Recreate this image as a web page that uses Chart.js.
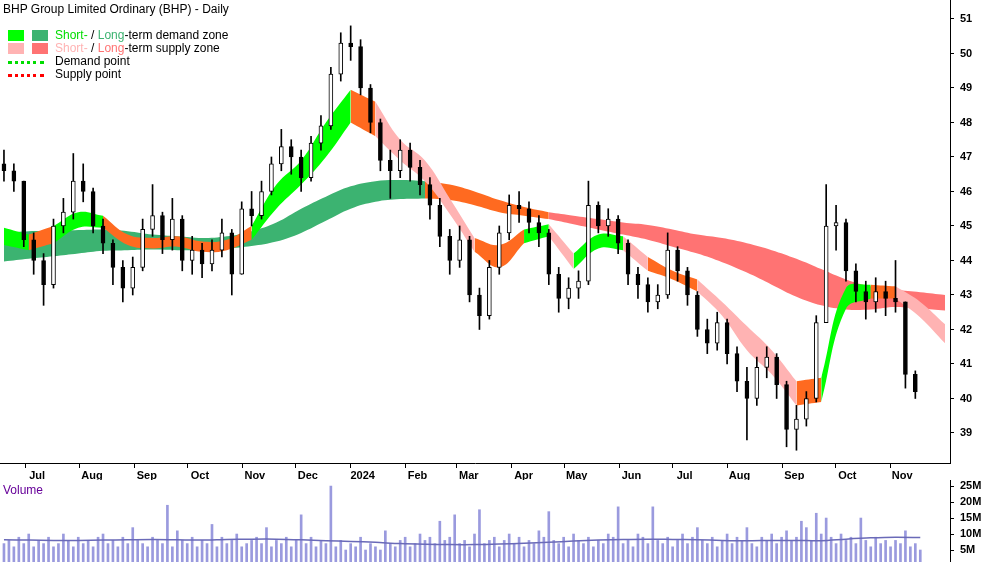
<!DOCTYPE html>
<html><head><meta charset="utf-8">
<script src="https://cdn.jsdelivr.net/npm/chart.js@4.4.1/dist/chart.umd.min.js"></script>
<style>
body{margin:0;background:#fff;width:1000px;height:562px;overflow:hidden;font-family:"Liberation Sans",Arial,sans-serif;position:relative}
canvas{position:absolute;left:0;top:0}
.t{position:absolute;font-size:12px;color:#000;white-space:nowrap}
.sw{position:absolute;width:16px;height:11px}
.dl{position:absolute;width:36px;border-top:3px dotted}
</style></head><body>
<div style="position:absolute;left:0;top:0;width:1000px;height:480px"><canvas id="c1" width="1000" height="480"></canvas></div>
<div style="position:absolute;left:0;top:480px;width:1000px;height:82px"><canvas id="c2" width="1000" height="82"></canvas></div>
<div class="t" style="left:3px;top:2px">BHP Group Limited Ordinary (BHP) - Daily</div>
<div class="sw" style="left:8px;top:30px;background:#00ff00"></div><div class="sw" style="left:32px;top:30px;background:#3cb371"></div>
<div class="t" style="left:55px;top:28px"><span style="color:#00dd00">Short-</span> / <span style="color:#3cb371">Long</span>-term demand zone</div>
<div class="sw" style="left:8px;top:43px;background:#ffb3b3"></div><div class="sw" style="left:32px;top:43px;background:#ff7373"></div>
<div class="t" style="left:55px;top:41px"><span style="color:#ffb3b3">Short-</span> / <span style="color:#ff7373">Long</span>-term supply zone</div>
<div class="dl" style="left:8px;top:61px;border-color:#00dd00"></div><div class="t" style="left:55px;top:54px">Demand point</div>
<div class="dl" style="left:8px;top:74px;border-color:#ff0000"></div><div class="t" style="left:55px;top:67px">Supply point</div>
<div class="t" style="left:3px;top:483px;color:#660099">Volume</div>
<script>
const monthWeeks=[1.71,6.14,10.57,14.86,19.29,23.57,28,32.43,36.57,41,45.29,49.71,54,58.43,62.86,67.14,71.57];
const monthLabels=["Jul","Aug","Sep","Oct","Nov","Dec","2024","Feb","Mar","Apr","May","Jun","Jul","Aug","Sep","Oct","Nov"];
const closes=[46.6,46.3,44.6,44.0,43.3,45.0,45.4,46.3,46.0,45.0,44.5,43.8,43.2,43.8,44.9,45.3,44.6,45.2,44.0,44.3,43.9,44.3,44.8,43.6,45.5,45.3,46.0,46.8,47.3,47.0,46.4,47.4,47.9,49.4,50.3,50.2,49.0,48.0,46.9,46.6,47.2,46.7,46.2,45.6,44.7,44.0,44.6,43.0,42.4,43.8,44.8,45.6,45.5,45.1,44.8,43.6,42.9,43.2,43.4,45.6,45.0,45.2,44.5,43.6,43.3,42.8,43.0,44.3,43.7,43.0,42.0,41.6,42.2,41.3,40.5,40.0,40.9,41.2,40.4,39.1,39.4,40.0,42.2,45.0,45.1,43.7,43.1,42.8,43.1,42.9,42.8,40.7,40.2];
const highs=[47.2,46.8,46.3,44.8,44.2,45.2,45.8,47.1,46.8,46.1,45.2,44.6,44.0,44.1,45.2,46.2,45.4,45.8,45.3,44.7,44.5,44.6,45.2,44.9,45.7,46.0,46.3,47.0,47.8,47.5,47.2,47.6,48.2,49.6,50.6,50.8,50.4,49.1,48.1,47.2,47.5,47.4,46.9,46.4,45.8,44.9,45.0,44.7,43.2,44.0,45.0,45.9,46.0,45.7,45.3,44.9,43.8,43.5,43.7,46.3,45.7,45.5,45.3,44.6,43.8,43.5,43.3,44.8,44.4,43.8,43.1,42.3,42.5,42.3,41.5,40.9,41.2,41.5,41.3,40.5,39.8,40.2,42.4,46.2,45.6,45.2,43.9,43.4,43.5,43.4,44.0,42.8,40.8];
const lows=[46.3,46.0,44.4,43.6,42.7,43.2,44.8,45.2,45.7,44.8,44.2,43.3,42.8,43.0,43.7,44.7,44.2,44.3,43.7,43.6,43.5,43.7,44.1,43.0,43.6,45.0,45.2,45.9,46.6,46.5,46.0,46.3,47.2,47.8,49.2,49.8,48.8,47.7,46.6,45.8,46.4,46.3,45.9,45.2,44.4,43.6,43.8,42.8,42.0,42.3,43.6,44.6,45.1,44.8,44.4,43.3,42.5,42.6,42.9,43.3,44.8,44.7,44.2,43.3,42.9,42.5,42.6,42.9,43.4,42.7,41.8,41.3,41.4,41.0,40.2,38.8,39.8,40.6,40.0,38.6,38.5,39.2,39.9,42.3,44.3,43.4,42.8,42.3,42.5,42.4,42.5,40.3,40.0];
const firstOpen=46.8;
const longUp=[44.8,44.85,44.85,44.88,44.9,44.85,44.75,44.7,44.65,44.7,44.85,45.1,45.5,45.85,46.15,46.3,46.33,46.3,46.2,46.0,45.75,45.55,45.4,45.3,45.2,45.1,45.03,44.9,44.75,44.65,44.5,44.3,44.05,43.75,43.45,43.25,43.15,43.08,43.0];
const longLo=[43.97,44.05,44.12,44.2,44.28,44.3,44.32,44.3,44.3,44.35,44.42,44.55,44.8,45.15,45.5,45.7,45.78,45.8,45.75,45.6,45.4,45.3,45.2,45.05,44.9,44.75,44.6,44.4,44.2,43.95,43.65,43.3,42.95,42.7,42.58,42.58,42.65,42.6,42.55];
const shortUp=[44.95,44.75,45.0,45.4,45.3,44.75,44.65,44.7,44.55,44.6,45.0,46.2,46.9,48.0,48.95,48.6,47.5,46.9,45.8,44.65,44.45,44.9,45.05,44.2,44.75,44.7,44.1,43.7,43.45,42.8,42.1,41.4,40.5,40.6,43.2,43.3,43.25,42.8,42.15];
const shortLo=[44.45,44.3,44.5,44.95,44.95,44.45,44.35,44.4,44.25,44.3,44.6,45.5,46.2,47.0,48.0,47.6,46.9,46.3,45.35,44.25,43.8,44.5,44.7,43.75,44.35,44.3,43.7,43.45,43.1,42.4,41.4,40.7,39.8,39.9,42.6,42.9,42.9,42.35,41.6];
const shortSegs=[[0,1,"g"],[1,2,"o"],[2,4,"g"],[4,10,"o"],[10,14,"g"],[14,15,"o"],[15,19,"p"],[19,21,"o"],[21,22,"g"],[22,23,"p"],[23,25,"g"],[25,26,"p"],[26,28,"o"],[28,32,"p"],[32,33,"o"],[33,35,"g"],[35,36,"o"],[36,38,"p"]];
const longSegs=[[0,17,"dg"],[17,22,"o"],[22,38,"r"]];
const volumes=[7,8,6,9,7,10,6,8,7,9,6,7,10,8,6,9,7,8,6,9,10,7,8,6,9,7,12,8,7,6,9,8,7,19,6,11,8,7,9,6,8,7,13,6,9,7,8,10,6,7,8,9,7,12,6,8,7,9,6,8,16,7,9,6,8,7,25,6,8,5,7,6,9,5,7,6,5,11,7,6,8,9,6,7,10,8,9,7,14,8,9,16,7,8,6,10,17.6,7,8,9,6,8,10,7,9,6,8,7,11,9,17,8,7,9,6,10,8,7,9,6,8,7,10,9,18.5,7,8,6,10,9,7,18.5,8,7,9,6,8,10,7,9,12,8,7,9,6,8,10,7,9,8,12,7,6,9,8,10,7,9,11,8,9,14,12,8,16.5,10,15,9,7,10,8,9,7,15,8,6,9,7,8,6,8,7,11,6,7,5];
const volMA=[8.2,8.1,8.0,8.0,8.1,8.2,8.3,8.2,8.1,8.3,8.4,8.4,8.2,7.9,7.7,7.4,7.0,6.8,6.7,6.7,6.9,7.1,7.4,7.8,8.1,8.3,8.4,8.3,8.2,8.0,7.9,8.0,8.0,7.9,8.4,8.8,9.0,8.9];

const COL={g:"#00ff00",o:"#ff6a20",p:"#ffb3b3",dg:"#3cb371",r:"#ff7373"};
const candleStep=0.8, bandStep=2, volStep=0.4;
const XMIN=-0.32, XMAX=76.4;
function bandSets(up,lo,segs,order){
  const out=[];
  segs.forEach(([a,b,k])=>{
    const mk=arr=>arr.map((v,i)=>({x:i*bandStep,y:(i>=a&&i<=b)?v:null}));
    out.push({type:"line",data:mk(up),borderWidth:0,pointRadius:0,tension:0.4,order,fill:false,borderColor:"rgba(0,0,0,0)"});
    out.push({type:"line",data:mk(lo),borderWidth:0,pointRadius:0,tension:0.4,order,fill:"-1",backgroundColor:COL[k],borderColor:"rgba(0,0,0,0)"});
  });
  return out;
}
const noPad=s=>{s.width=50;s.paddingTop=0;s.paddingBottom=0;};
const opens=closes.map((c,i)=>i===0?firstOpen:closes[i-1]);
const wick={type:"bar",data:closes.map((c,i)=>({x:i*candleStep,y:[lows[i],highs[i]]})),backgroundColor:"#000",barThickness:1,grouped:false,order:0};
const body={type:"bar",data:closes.map((c,i)=>({x:i*candleStep,y:[Math.min(opens[i],c),Math.max(opens[i],c)]})),
  backgroundColor:closes.map((c,i)=>c>=opens[i]?"#fff":"#000"),borderColor:"#000",borderWidth:1,borderSkipped:false,barThickness:4,grouped:false,order:-1};
const datasets=[body,wick,...bandSets(shortUp,shortLo,shortSegs,1),...bandSets(longUp,longLo,longSegs,2)];
const font={family:"Liberation Sans",size:11,weight:"bold"};
new Chart(document.getElementById("c1"),{
  data:{datasets},
  options:{responsive:false,animation:false,layout:{padding:0},
    plugins:{legend:{display:false},tooltip:{enabled:false}},
    scales:{
      x:{type:"linear",offset:false,min:XMIN,max:XMAX,
        afterBuildTicks:s=>{s.ticks=monthWeeks.map(v=>({value:v}));},
        afterFit:s=>{s.height=17;},
        ticks:{callback:(v,i)=>monthLabels[i],autoSkip:false,maxRotation:0,labelOffset:12,padding:1,color:"#000",font},
        grid:{drawOnChartArea:false,offset:false,tickLength:5,color:"#000"},border:{color:"#000"}},
      y:{position:"right",min:38.13,max:51.55,
        afterBuildTicks:s=>{const t=[];for(let v=39;v<=51;v++)t.push({value:v});s.ticks=t;},
        afterFit:noPad,
        ticks:{color:"#000",font,padding:6},
        grid:{drawOnChartArea:false,tickLength:4,color:"#000"},border:{color:"#000"}}
    }}
});
new Chart(document.getElementById("c2"),{
  data:{datasets:[
    {type:"line",data:volMA.map((v,i)=>({x:i*bandStep,y:v})),borderColor:"#6a6ab8",borderWidth:1.5,pointRadius:0,tension:0.3,order:0},
    {type:"bar",data:volumes.map((v,i)=>({x:i*volStep,y:v})),backgroundColor:"#9a9ade",barThickness:2,grouped:false,order:1}
  ]},
  options:{responsive:false,animation:false,layout:{padding:0},
    plugins:{legend:{display:false},tooltip:{enabled:false}},
    scales:{
      x:{type:"linear",offset:false,min:XMIN,max:XMAX,display:false},
      y:{position:"right",min:1.25,max:26.9,
        afterBuildTicks:s=>{s.ticks=[5,10,15,20,25].map(v=>({value:v}));},
        afterFit:noPad,
        ticks:{color:"#000",font,padding:6,callback:v=>v+"M"},
        grid:{drawOnChartArea:false,tickLength:4,color:"#000"},border:{color:"#000"}}
    }}
});
</script></body></html>
